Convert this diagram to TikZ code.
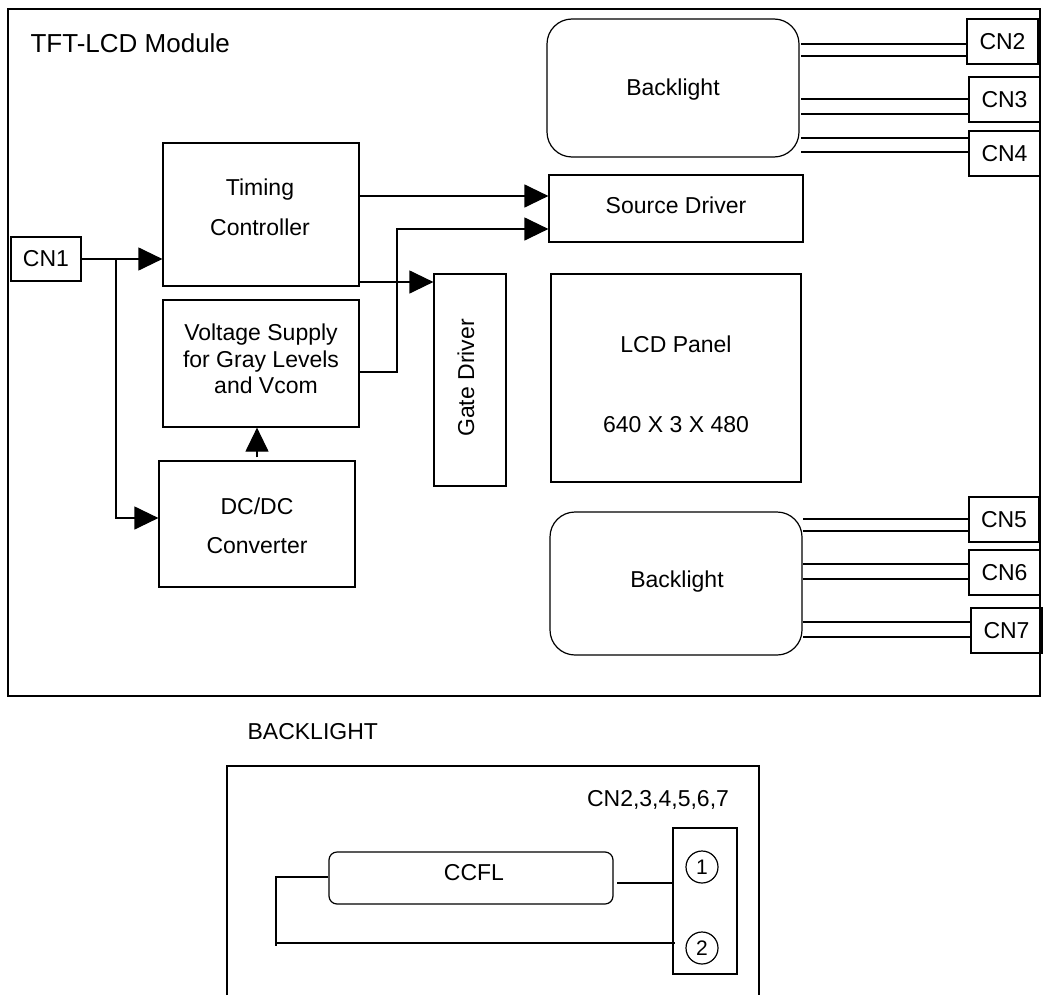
\documentclass[tikz,border=0pt]{standalone}
\usepackage{fontspec}
\setmainfont{Liberation Sans}
\usetikzlibrary{arrows.meta}
\begin{document}
\begin{tikzpicture}[x=1pt,y=-1pt,line width=1.2pt,
  box/.style={draw,rectangle,inner sep=0pt,font=\fontsize{23}{27}\selectfont,align=center},
  rbox/.style={box,rounded corners=25pt},
  lbl/.style={font=\fontsize{23}{27}\selectfont,align=center,inner sep=0pt},
  arr/.style={-{Triangle[length=24pt,width=23pt]}},
  wire/.style={line width=1.2pt}]
\useasboundingbox (0,0) rectangle (1043,995);
% outer frame
\node[draw,inner sep=0pt,minimum width=1032,minimum height=687] (frame) at (524,352.5) {};
\node[lbl,anchor=base west,font=\fontsize{26}{30}\selectfont] (title) at (30,53) {TFT-LCD Module};
% left blocks
\node[box,minimum width=70,minimum height=44] (cn1) at (46,259) {CN1};
\node[box,minimum width=196,minimum height=143] (tc) at (261,214.5) {};
\node[lbl,font=\fontsize{23}{40}\selectfont] (tct) at (260,207) {Timing\\Controller};
\node[box,minimum width=196,minimum height=127] (vs) at (261,363.5) {};
\node[lbl,font=\fontsize{23}{26.5}\selectfont] (vst) at (261,359) {Voltage Supply\\for Gray Levels\\\hspace*{10pt}and Vcom};
\node[box,minimum width=196,minimum height=126] (dc) at (257,524) {};
\node[lbl,font=\fontsize{23}{39}\selectfont] (dct) at (257,526) {DC/DC\\Converter};
\node[box,minimum width=72,minimum height=212] (gd) at (470,380) {};
\node[lbl,rotate=90] (gdt) at (466,378) {Gate Driver};
% right blocks
\node[box,minimum width=254,minimum height=67] (sd) at (676,208.5) {};
\node[lbl] (sdt) at (676,205) {Source Driver};
\node[box,minimum width=250,minimum height=208] (lcd) at (676,378) {};
\node[lbl,font=\fontsize{23}{80}\selectfont] (lcdt) at (676,384) {LCD Panel\\640 X 3 X 480};
\node[rbox,minimum width=252,minimum height=138] (bl1) at (673,88) {};
\node[lbl] (bl1t) at (673,90) {Backlight};
\node[rbox,minimum width=252,minimum height=143] (bl2) at (676,583.5) {};
\node[lbl] (bl2t) at (677,582) {Backlight};
\node[box,minimum width=71,minimum height=45] (cn2) at (1002.5,41.5) {CN2};
\node[box,minimum width=71,minimum height=45] (cn3) at (1004.5,99.5) {CN3};
\node[box,minimum width=71,minimum height=45] (cn4) at (1004.5,153.5) {CN4};
\node[box,minimum width=70,minimum height=45] (cn5) at (1004,519.5) {CN5};
\node[box,minimum width=71,minimum height=45] (cn6) at (1004.5,572.5) {CN6};
\node[box,minimum width=71,minimum height=45] (cn7) at (1006.5,630.5) {CN7};
% connectors
\coordinate (j) at (116,259);
\draw[arr] (cn1.east) -- (cn1.east -| tc.west);
\draw[arr] (j) |- ([yshift=6pt]dc.west);
\draw[arr] (tc.east |- 0,196) -- (sd.west |- 0,196);
\draw[arr] (vs.east |- 0,372) -- (397,372) -- (397,229) -- (sd.west |- 0,229);
\draw[arr] (tc.east |- 0,282) -- (gd.west |- 0,282);
\draw[arr] ([yshift=3pt]dc.north) -- (dc.north |- vs.south);
% backlight wires
\foreach \n/\ya/\yb in {cn2/44/56,cn3/99/114,cn4/138/152}{
  \draw[wire] (801,\ya) -- (\n.west |- 0,\ya);
  \draw[wire] (801,\yb) -- (\n.west |- 0,\yb);
}
\foreach \n/\ya/\yb in {cn5/519/531,cn6/564/579,cn7/622/637}{
  \draw[wire] (803,\ya) -- (\n.west |- 0,\ya);
  \draw[wire] (803,\yb) -- (\n.west |- 0,\yb);
}
% lower detail
\node[lbl,anchor=west] (blt) at (247,732) {BACKLIGHT};
\draw (227,995) -- (227,766) -- (759,766) -- (759,995);
\node[lbl] (cnlist) at (658,800) {CN2,3,4,5,6,7};
\node[box,minimum width=64,minimum height=146] (conn) at (705,901) {};
\node[draw,circle,inner sep=0pt,minimum size=32,font=\fontsize{21}{25}\selectfont] (p1) at (702,867) {1};
\node[draw,circle,inner sep=0pt,minimum size=32,font=\fontsize{21}{25}\selectfont] (p2) at (702,948) {2};
\node[box,rounded corners=8pt,minimum width=284,minimum height=52] (ccfl) at (471,878) {};
\node[lbl] (ccflt) at (474,873) {CCFL};
\draw[wire] (617,883) -- (conn.west |- 0,883);
\draw[wire] (ccfl.west |- 0,877) -- (276,877) -- (276,946);
\draw[wire] (276,943) -- ([xshift=3pt]conn.west |- 0,943);
\end{tikzpicture}
\end{document}
